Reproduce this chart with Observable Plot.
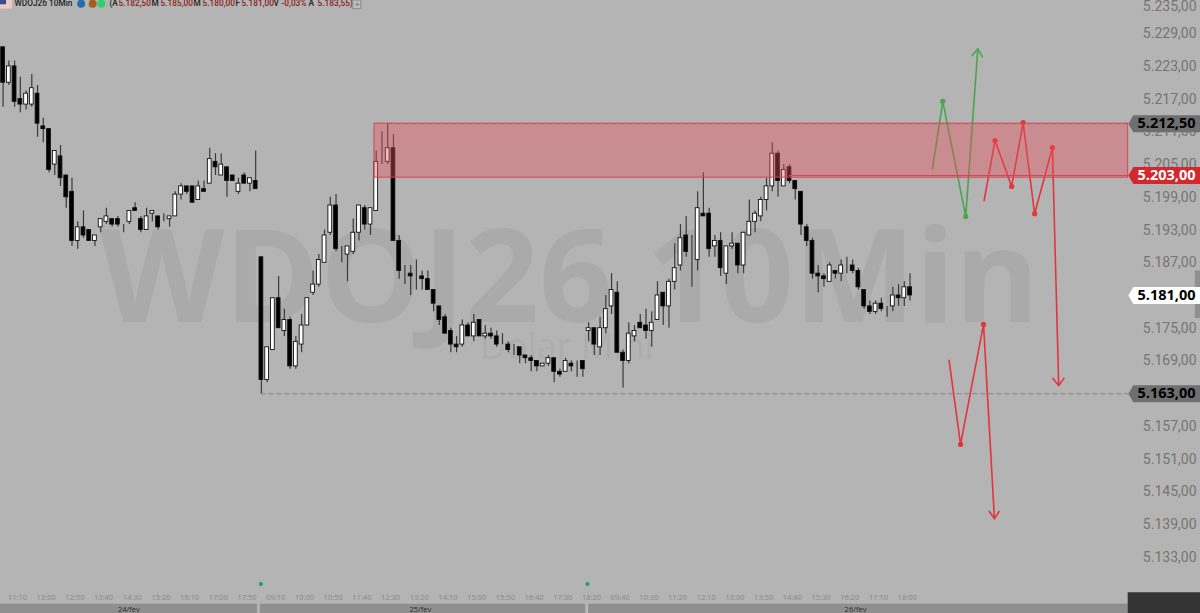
<!DOCTYPE html>
<html><head><meta charset="utf-8">
<style>html,body{margin:0;padding:0;background:#b4b4b4;overflow:hidden}svg{display:block}</style>
<script src="https://cdn.jsdelivr.net/npm/d3@7"></script>
<script src="https://cdn.jsdelivr.net/npm/@observablehq/plot@0.6"></script>
</head><body><div id="chart"></div>
<script>
const opens=[5226.5,5220,5223,5217,5216,5216,5218,5212,5211.5,5205,5206.5,5203,5200,5191,5193.5,5193,5191,5193.5,5194.5,5195,5195,5193.5,5194.5,5197,5195,5193,5196,5195.5,5195,5195,5195.5,5199.5,5201,5201,5198.5,5200.5,5201.5,5205.5,5203,5204.5,5203,5200,5203,5201.5,5202,
5188,5165.5,5171,5180.5,5174.5,5176.5,5168,5172,5175.5,5181.5,5183,5187,5192.5,5197.5,5189,5188.5,5189,5192.5,5197,5194,5196.5,5206.5,5205.5,5208,5191,5185.5,5185,5184.5,5184.5,5184,5182,5179,5177,5174.5,5172,5172,5175.5,5173.5,5176.5,5173.5,5174,5173.5,5172,5172,5171.5,5171.5,5170,5169.5,5169,5168,5168.5,5169.5,5167,5167,5168.5,5168.5,5169,
5174.5,5175,5171.5,5175,5179,5181.5,5170.5,5169,5173.5,5176,5175.5,5174.5,5176.5,5181.5,5179,5183.5,5186.5,5192,5188,5187.5,5196,5196,5190,5191,5185,5190,5190.5,5186.5,5192,5194.5,5195.5,5198.5,5201,5207,5201,5204.5,5202,5200,5193.5,5191,5185,5184.5,5183.5,5185.5,5185,5186.5,5186.5,5185.5,5182,5179,5178,5179.5,5178.5,5179,5181,5180.5,5182.5];
const closes=[5220,5223,5216.5,5216,5218,5219,5212.5,5211.5,5204,5207.5,5202.5,5199,5191,5193.5,5192,5191,5192,5195,5195.5,5194,5194,5193.5,5196.5,5196.5,5193,5195.5,5196.5,5193.5,5195,5195.5,5199.5,5201,5200,5198,5201,5200,5206,5204.5,5205,5202,5202,5201.5,5201.5,5202.5,5200.5,
5165.5,5171.5,5180.5,5175,5176.5,5168,5172.5,5175.5,5180.5,5183,5187.5,5192,5197.5,5189.5,5189,5190,5192.5,5197.5,5194,5197,5205.5,5206.5,5208,5191,5185.5,5185.5,5184.5,5184.5,5184,5182,5179.5,5176.5,5174,5172,5171.5,5175.5,5173.5,5176,5173.5,5174,5173.5,5172,5172,5171,5171.5,5170,5169.5,5169,5168,5168.5,5169.5,5167,5166.5,5169,5168,5168.5,5167.5,
5175,5172,5175,5178.5,5182,5170.5,5169,5174,5174.5,5175,5174.5,5176,5181,5179,5183.5,5186,5191.5,5189,5188,5197,5195.5,5189.5,5191,5186,5190,5190.5,5186.5,5192.5,5194.5,5196,5198.5,5201,5207,5202,5204,5202,5200.5,5194,5191,5185,5184.5,5184,5186.5,5185,5186.5,5186.5,5185.5,5182.5,5179,5178,5179.5,5178.5,5178.5,5181,5180.5,5182.5,5181];
const highs=[5226.5,5224,5224,5221,5218.5,5221.5,5219.5,5213.5,5211.5,5207.5,5208.5,5203,5202.5,5194.5,5196.5,5193,5192,5195,5197,5195,5195.5,5194,5196.5,5198,5195.5,5197,5196.5,5195.5,5196,5195.5,5200,5201.5,5201,5201,5202,5202,5208,5207,5207,5204.5,5203,5202.5,5203.5,5202.5,5207.5,
5188,5171.5,5180.5,5184.5,5178.5,5177,5173.5,5177.5,5180.5,5185.5,5188.5,5193,5199,5199.5,5190,5190,5195,5197.5,5197.5,5197,5207.5,5211,5212.5,5210.5,5192,5186.5,5186.5,5187.5,5185.5,5185.5,5182,5179,5177.5,5175,5173.5,5176.5,5176,5177.5,5176.5,5175.5,5175,5174.5,5174,5172.5,5172,5171.5,5170,5170,5169,5168.5,5170,5169.5,5167.5,5169.5,5169,5169,5169,
5176,5175,5177,5181,5185,5183.5,5171,5176,5175.5,5177.5,5178.5,5178,5183.5,5181.5,5184,5190.5,5194,5195.5,5192,5200,5203.5,5197,5192,5192.5,5190,5192.5,5190.5,5192.5,5198.5,5196.5,5199,5202.5,5209,5207.5,5205,5205,5202,5200,5194,5191.5,5186.5,5185,5187,5185.5,5187.5,5188,5187.5,5186,5182,5180,5180,5180.5,5179,5182.5,5183,5183.5,5185];
const lows=[5215.5,5219.5,5215.5,5214.5,5215,5215.5,5210,5209,5203.5,5203,5201,5197,5190,5189.5,5191.5,5191,5190,5192.5,5194,5193.5,5193.5,5192.5,5194,5196.5,5192.5,5193,5194.5,5193,5194.5,5193.5,5195.5,5198.5,5199.5,5198,5198.5,5200,5201.5,5203,5203,5199,5202,5199.5,5201.5,5200,5200.5,
5163,5165,5171,5175,5173.5,5167.5,5167.5,5170.5,5175.5,5181,5182.5,5187,5192,5189,5187,5183.5,5188.5,5191,5193,5192,5196.5,5205,5205,5191,5184,5183,5181,5182,5182,5182,5178,5175.5,5174,5170.5,5170.5,5171.5,5173.5,5172.5,5173.5,5173,5173,5171.5,5172,5170.5,5170,5168.5,5168.5,5167,5167,5168,5168,5165,5166,5167,5167,5166,5166,
5172.5,5170,5170,5174,5177.5,5170.5,5164,5168.5,5172.5,5175,5173,5171.5,5176.5,5175.5,5175,5182,5185.5,5188,5182.5,5185.5,5195.5,5188,5188,5184.5,5183,5189.5,5185,5185,5192,5192.5,5194.5,5196.5,5200,5199,5201,5201.5,5198.5,5192,5190,5184,5181.5,5182.5,5183.5,5184,5183.5,5185,5185,5182,5178.5,5177.5,5177.5,5178,5177,5178,5179,5179,5180];
const timeLabels=["11:10","12:00","12:50","13:40","14:30","15:20","16:10","17:00","17:50","09:10","10:00","10:50","11:40","12:30","13:20","14:10","15:00","15:50","16:40","17:30","18:20","09:40","10:30","11:20","12:10","13:00","13:50","14:40","15:30","16:20","17:10","18:00"];
const dayLabels=["24/fev","25/fev","26/fev"];
const dayStart=[-0.45,44.6,101.8];
const dayEnd=[44.3,101.5,196];
const dayCenter=[21.9,72.7,148.5];
const sessionDots=[44.9,101.8];
const priceTicks=[5229,5223,5217,5211,5205,5199,5193,5187,5175,5169,5157,5151,5145,5139,5133];
const tags=[{p:5212.5,fill:"#6f6f6f",ink:"#000"},{p:5203,fill:"#d2282e",ink:"#fff"},{p:5181,fill:"#fff",ink:"#000"},{p:5163,fill:"#6f6f6f",ink:"#000"}];
const greenPath={x:[161.9,163.7,167.7,169.8],p:[5204.2,5216.6,5195.5,5226.2]};
const greenHead={x:[168.8,169.8,170.6],p:[5225,5226.2,5224.8]};
const redPathA={x:[170.9,172.8,175.7,177.7,179.7,182.8,183.9],p:[5198.4,5209.4,5201,5212.7,5196,5208.1,5164.5]};
const redHeadA={x:[182.9,183.9,184.8],p:[5165.8,5164.5,5165.8]};
const redPathB={x:[164.8,166.8,170.8,172.7],p:[5169.1,5153.7,5175.7,5140.1]};
const redHeadB={x:[171.8,172.7,173.5],p:[5141.4,5140.1,5141.4]};
const headerWords=["WDOJ26 10Min","(A","5.182,50","M","5.185,00","M","5.180,00","F","5.181,00","V","-0,03%","A","5.183,55)"];
const headerLeft=[14,109,118,151,160,193,202,235,241,273,281,308,317];
const headerInk=["#222","#222","#8a1c1c","#222","#8a1c1c","#222","#8a1c1c","#222","#8a1c1c","#222","#8a1c1c","#222","#8a1c1c"];

const candles=opens.map((o,i)=>({i,o,c:closes[i],h:highs[i],l:lows[i]}));
const fmt=d3.formatLocale({decimal:",",thousands:".",grouping:[3],currency:["",""]}).format(",.2f");
const FONT="'Open Sans',sans-serif";
const tagShape={draw(c){c.moveTo(-36,0);c.lineTo(-31,-8.5);c.lineTo(36,-8.5);c.lineTo(36,8.5);c.lineTo(-31,8.5);c.closePath();}};
const rows=q=>q.x.map((x,i)=>({x,p:q.p[i]}));
const pathMarks=(path,head,color)=>[
  Plot.line(rows(path),{x:"x",y:"p",stroke:color,strokeWidth:1.6}),
  Plot.line(rows(head),{x:"x",y:"p",stroke:color,strokeWidth:1.6}),
  Plot.dot(rows(path).slice(1,-1),{x:"x",y:"p",r:2.6,fill:color})
];
const chart=Plot.plot({
  width:1200,height:613,margin:0,
  style:{background:"#b4b4b4",fontFamily:FONT},
  x:{domain:[-0.453,208.6],range:[0,1200],axis:null},
  y:{domain:[5122.7,5235.08],range:[613,0],axis:null},
  marks:[
    Plot.text(["WDOJ26 10Min"],{x:98.7,y:5183.7,text:d=>d,fontSize:129,fontWeight:700,fill:"#aaaaaa"}),
    Plot.text(["Dolar Mini"],{x:98.2,y:5171.4,text:d=>d,fontSize:36,fill:"#adadad"}),
    Plot.ruleY([5163],{x1:44.9,x2:196,stroke:"#858585",strokeWidth:1,strokeDasharray:"5,3"}),
    Plot.ruleY([5212.5],{x1:67,x2:196,stroke:"#858585",strokeWidth:1,strokeDasharray:"5,3"}),
    Plot.ruleX(candles,{x:"i",y1:"l",y2:"h",stroke:"#3a3a3a",strokeWidth:1.2}),
    Plot.rect(candles,{x1:d=>d.i-0.33,x2:d=>d.i+0.33,y1:d=>Math.min(d.o,d.c),y2:d=>Math.max(d.o,d.c),
      fill:d=>d.c>d.o?"#fff":"#000",stroke:"#111",strokeWidth:0.9}),
    ...pathMarks(greenPath,greenHead,"#47a64c"),
    ...pathMarks(redPathA,redHeadA,"#e2353c"),
    ...pathMarks(redPathB,redHeadB,"#e2353c"),
    Plot.rect([0],{x1:64.7,x2:196,y1:5202.6,y2:5212.5,fill:"rgb(232,80,90)",fillOpacity:0.4,stroke:"#d8454f",strokeWidth:1}),
    Plot.ruleY([5203],{x1:137,x2:196,stroke:"#d8454f",strokeWidth:1}),
    Plot.rect(dayLabels,{x1:(d,i)=>dayStart[i],x2:(d,i)=>dayEnd[i],y1:5122.7,y2:5124.4,fill:"#8f8f8f"}),
    Plot.ruleX(dayStart.slice(1),{y1:5122.7,y2:5124.4,stroke:"#c4c4c4",strokeWidth:1}),
    Plot.rect([0],{x1:196,x2:208.6,y1:5122.7,y2:5126.5,fill:"#333333"}),
    Plot.rect([0],{x1:207.7,x2:208.6,y1:5176.8,y2:5185.5,fill:"#8f8f8f"}),
    Plot.text(dayLabels,{x:(d,i)=>dayCenter[i],y:5123.5,text:d=>d,fontSize:7.5,fill:"#2a2a2a"}),
    Plot.text(timeLabels,{x:(d,i)=>2.5+5*i,y:5125.6,text:d=>d,fontSize:7.5,fill:"#878787"}),
    Plot.dot(sessionDots,{x:d=>d,y:5128.1,r:2,fill:"#1f9c6d"}),
    Plot.text(priceTicks,{frameAnchor:"right",y:d=>d,text:fmt,dx:-4,fontSize:14,fill:"#757575",textAnchor:"end",fontFamily:"Roboto"}),
    Plot.text([5235],{frameAnchor:"right",y:d=>d,text:fmt,dx:-4,dy:6,fontSize:14,fill:"#757575",textAnchor:"end",fontFamily:"Roboto"}),
    Plot.dot(tags,{x:202.3,y:"p",symbol:tagShape,fill:"fill",r:1}),
    Plot.text(tags,{frameAnchor:"right",y:"p",text:d=>fmt(d.p),fill:"ink",dx:-5,textAnchor:"end",fontSize:14.5,fontWeight:700}),
    ...headerWords.map((w,i)=>Plot.text([w],{frameAnchor:"top-left",text:d=>d,dx:headerLeft[i],dy:0,textAnchor:"start",fontSize:8.3,fontWeight:500,fill:headerInk[i],fontFamily:"Roboto"})),
    Plot.dot(["#2a6aa8","#a85a24","#2fd06d"],{x:(d,i)=>[13.6,15.6,17.1][i],y:5234.5,r:4,fill:d=>d}),
    Plot.rect([0],{x1:61,x2:62.4,y1:5233.5,y2:5235.08,stroke:"#8a8a8a",fill:"#bdbdbd"}),
    Plot.text(["+"],{x:61.7,y:5234.4,text:d=>d,fontSize:8,fill:"#555"}),
    Plot.rect([0],{x1:-0.45,x2:1.65,y1:5233.5,y2:5235.08,fill:"#ecc9c9"}),
    Plot.rect([0],{x1:-0.45,x2:0.6,y1:5234.3,y2:5235.08,fill:"#3b4a8a"})
  ]
});
document.getElementById("chart").append(chart);
</script></body></html>
